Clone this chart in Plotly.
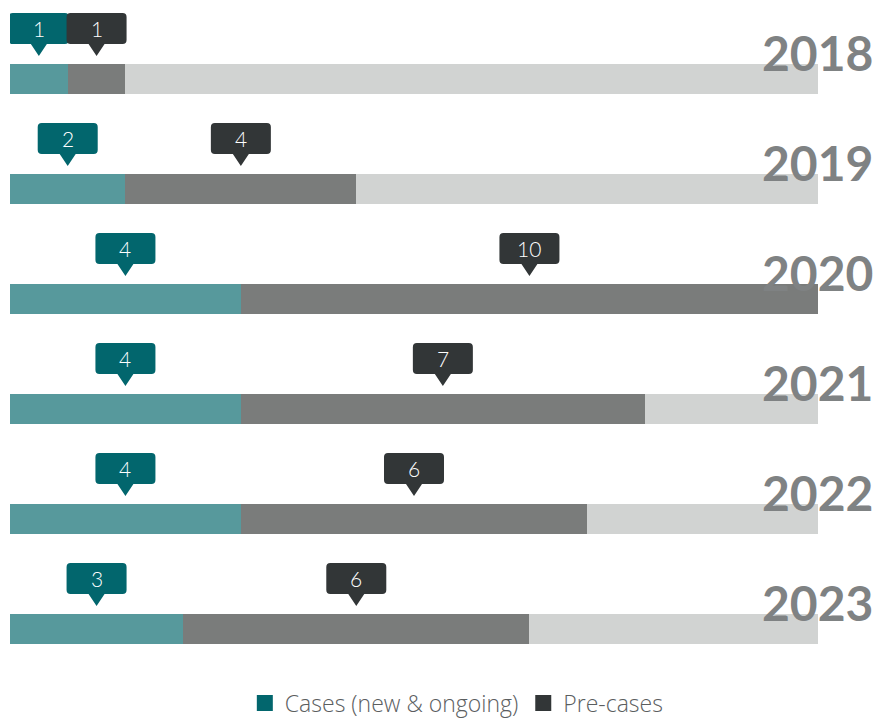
import plotly.graph_objects as go

years = ["2018", "2019", "2020", "2021", "2022", "2023"]
cases = [1, 2, 4, 4, 4, 3]
pre_cases = [1, 4, 10, 7, 6, 6]
TOTAL = 14
remainder = [TOTAL - c - p for c, p in zip(cases, pre_cases)]

TEAL_BAR = "#57999c"
DARK_BAR = "#7a7c7b"
LIGHT_BAR = "#d1d3d2"
TEAL_TAG = "#02666d"
DARK_TAG = "#323637"
YEAR_COLOR = "#7f8283"

ypos = list(range(len(years)))
BW = 30 / 110

fig = go.Figure()
fig.add_trace(go.Bar(y=ypos, x=cases, orientation="h", name="Cases (new & ongoing)", showlegend=False,
                     marker=dict(color=TEAL_BAR, line=dict(width=0)), width=BW, hoverinfo="skip"))
fig.add_trace(go.Bar(y=ypos, x=pre_cases, orientation="h", name="Pre-cases", showlegend=False,
                     marker=dict(color=DARK_BAR, line=dict(width=0)), width=BW, hoverinfo="skip"))
fig.add_trace(go.Bar(y=ypos, x=remainder, orientation="h", name="rest", showlegend=False,
                     marker=dict(color=LIGHT_BAR, line=dict(width=0)), width=BW, hoverinfo="skip"))

# legend entries with tag colours
fig.add_trace(go.Scatter(x=[None], y=[None], mode="markers", name="Cases (new & ongoing)",
                         marker=dict(symbol="square", size=16, color=TEAL_TAG), hoverinfo="skip"))
fig.add_trace(go.Scatter(x=[None], y=[None], mode="markers", name="Pre-cases",
                         marker=dict(symbol="square", size=16, color=DARK_TAG), hoverinfo="skip"))

# bubble path in pixels relative to anchor (bar centre); y positive upward
W, R = 30, 4
bot, top, tip, half = 35, 66, 23, 8
bubble = (f"M {-W+R},{top} L {W-R},{top} Q {W},{top} {W},{top-R} "
          f"L {W},{bot+R} Q {W},{bot} {W-R},{bot} "
          f"L {half},{bot} L 0,{tip} L {-half},{bot} "
          f"L {-W+R},{bot} Q {-W},{bot} {-W},{bot+R} "
          f"L {-W},{top-R} Q {-W},{top} {-W+R},{top} Z")

shapes = []
annotations = []
for i, y in enumerate(ypos):
    for val, xc, col in [(cases[i], cases[i] / 2, TEAL_TAG),
                         (pre_cases[i], cases[i] + pre_cases[i] / 2, DARK_TAG)]:
        shapes.append(dict(type="path", xref="x", yref="y", xsizemode="pixel", ysizemode="pixel",
                           xanchor=xc, yanchor=y, path=bubble, fillcolor=col,
                           line=dict(width=0), layer="above"))
        annotations.append(dict(x=xc, y=y, xref="x", yref="y", text=str(val), showarrow=False,
                                yshift=51, font=dict(family="Lato", size=21, color="white", weight=300)))
    annotations.append(dict(x=TOTAL, y=y, xref="x", yref="y", text=years[i], showarrow=False,
                            xanchor="right", yanchor="middle", xshift=57, yshift=27,
                            font=dict(family="Lato", size=48, color=YEAR_COLOR, weight="bold")))

fig.update_layout(
    width=874, height=718,
    margin=dict(l=10, r=56, t=0, b=34, autoexpand=False),
    barmode="stack",
    plot_bgcolor="white", paper_bgcolor="white",
    xaxis=dict(range=[0, TOTAL], visible=False, fixedrange=True),
    yaxis=dict(range=[5.5, -79 / 110], visible=False, fixedrange=True),
    shapes=shapes,
    annotations=annotations,
    showlegend=True,
    legend=dict(orientation="h", x=0.553, xanchor="center", y=-0.028, yanchor="middle",
                font=dict(family="Open Sans", size=23, color="#5b5e5f", weight=300),
                traceorder="normal", itemsizing="trace"),
)

fig.write_html("out.html")
